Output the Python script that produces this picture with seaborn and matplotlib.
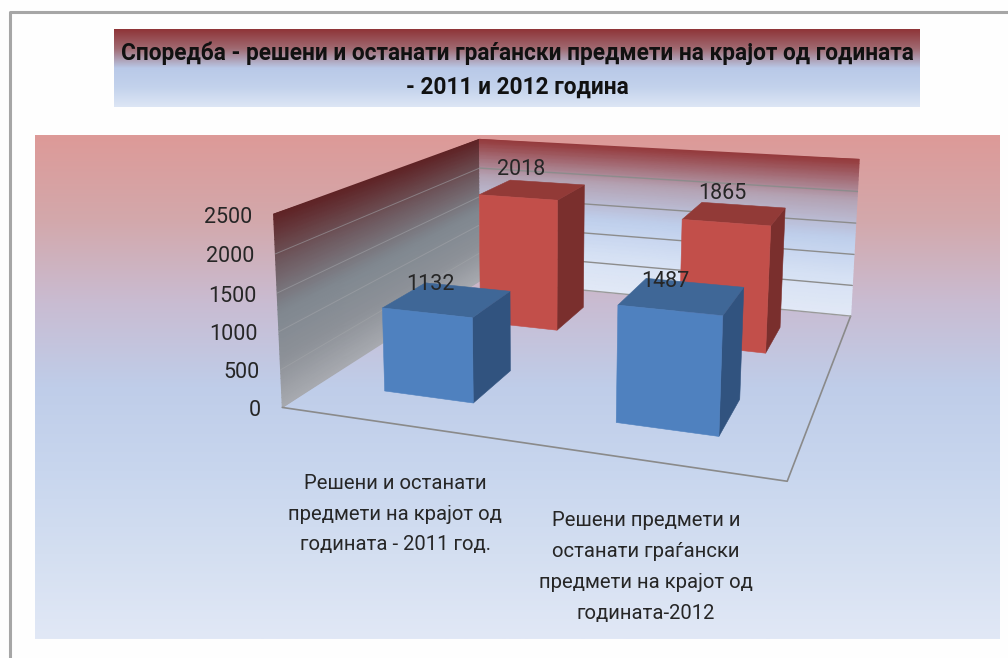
import numpy as np
import matplotlib
matplotlib.use('Agg')
import matplotlib.pyplot as plt
import seaborn as sns

sns.set_style('white')
plt.rcParams['font.family'] = ['Roboto', 'DejaVu Sans']

title = 'Споредба - решени и останати граѓански предмети на крајот од годината\n- 2011 и 2012 година'
categories = ['Решени и останати\nпредмети на крајот од\nгодината - 2011 год.',
              'Решени предмети и\nостанати граѓански\nпредмети на крајот од\nгодината-2012']
front_series = [1132, 1487]   # blue row
back_series = [2018, 1865]    # red row
y_ticks = [0, 500, 1000, 1500, 2000, 2500]
y_max = 2500

# camera: corners of the chart box (x, depth, value share) and where they land in the picture
world = [(0, 0, 0), (1, 0, 0), (1, 1, 0), (0, 1, 0), (0, 0, 1), (0, 1, 1), (1, 1, 1)]
image = [(283, 407), (787, 482), (851, 315), (480, 281), (273, 214), (480, 139), (859, 160)]
rows = []
for (X, Y, Z), (px, py) in zip(world, image):
    rows.append([X, Y, Z, 1, 0, 0, 0, 0, -px*X, -px*Y, -px*Z, -px])
    rows.append([0, 0, 0, 0, X, Y, Z, 1, -py*X, -py*Y, -py*Z, -py])
P = np.linalg.svd(np.array(rows, dtype=float))[2][-1].reshape(3, 4)


def proj(x, d, v):
    x, d, v = np.broadcast_arrays(x, d, np.asarray(v, dtype=float) / y_max)
    w = np.stack([x, d, v, np.ones_like(x, dtype=float)], axis=-1) @ P.T
    return w[..., 0] / w[..., 2], w[..., 1] / w[..., 2]


def box(xc, dc, value, front, top, side):
    x0, x1, d0, d1 = xc - 0.1, xc + 0.1, dc - 0.1, dc + 0.1
    faces = [([x1, x1, x1, x1], [d0, d1, d1, d0], [0, 0, value, value], side),
             ([x0, x1, x1, x0], [d0, d0, d1, d1], [value] * 4, top),
             ([x0, x1, x1, x0], [d0, d0, d0, d0], [0, 0, value, value], front)]
    for xs, ds, vs, color in faces:
        ax.fill(*proj(np.array(xs), np.array(ds), np.array(vs)), color=color, lw=0.4, zorder=4)


def gradient(x0, x1, y0, y1, stops):
    cmap = sns.blend_palette(stops, as_cmap=True)
    ax.imshow(np.linspace(0, 1, 256)[:, None], extent=(x0, x1, y1, y0), cmap=cmap,
              aspect='auto', zorder=1)


fig = plt.figure(figsize=(10.08, 6.58), dpi=100, facecolor='#fefefe')
ax = fig.add_axes([0, 0, 1, 1])
ax.axis('off')

# backgrounds
gradient(114, 920, 29, 107, ['#8f3437', '#a06a72', '#b9c9e8', '#c3d2ec', '#dde6f5'])
gradient(35, 1000, 135, 639, ['#dd9a98', '#d3a8ab', '#c9bcd2', '#bfcde9', '#c8d6ee', '#d4dff1', '#e1e8f6'])

# walls
vv = np.linspace(0, y_max, 40)
dd = np.linspace(0, 1, 2)
xx = np.linspace(0, 1, 2)
left_cmap = sns.blend_palette(['#a8aab0', '#8d9198', '#808890', '#6f5a60', '#5f2325'], as_cmap=True)
back_cmap = sns.blend_palette(['#e2e9f6', '#d6e1f4', '#bfcfec', '#b4a2b3', '#953a3c'], as_cmap=True)
D, V = np.meshgrid(dd, vv)
ax.pcolormesh(*proj(np.zeros_like(D), D, V), V, cmap=left_cmap, shading='gouraud', zorder=2)
X, V = np.meshgrid(xx, vv)
ax.pcolormesh(*proj(X, np.ones_like(X), V), V, cmap=back_cmap, shading='gouraud', zorder=2)

# gridlines
for t in y_ticks[1:-1]:
    ax.plot(*proj(np.array([0, 0]), np.array([0, 1]), np.array([t, t])), color='#a3a5aa', lw=0.7, alpha=0.55, zorder=3)
    ax.plot(*proj(np.array([0, 1]), np.array([1, 1]), np.array([t, t])), color='#8c8c8c', lw=1, zorder=3)
ax.plot(*proj(np.array([0, 1, 1]), np.array([0, 0, 1]), np.array([0, 0, 0])), color='#8a8a8a', lw=1.2, zorder=3)
ax.plot(*proj(np.array([0, 1]), np.array([1, 1]), np.array([0, 0])), color='#9a9a9a', lw=1, zorder=3)

# bars, back row first
centres = [0.25, 0.75]
for xc, value in zip(centres, back_series):
    box(xc, 0.75, value, '#c24f4a', '#923a37', '#7a2f2d')
for xc, value in zip(centres, front_series):
    box(xc, 0.25, value, '#4f81bf', '#3f6797', '#31537f')

# value labels
for dc, series, ox, oy in ((0.75, back_series, -12, -20), (0.25, front_series, -17, -15)):
    for xc, value in zip(centres, series):
        lx, ly = proj(xc, dc, value)
        ax.text(lx + ox, ly + oy, str(value), ha='center', va='center', fontsize=15.5,
                color='#262626', zorder=6)

# value axis labels
for t in y_ticks:
    lx, ly = proj(0, 0, t)
    ax.text(lx - 21, ly + 3, str(t), ha='right', va='center', fontsize=15.5, color='#262626', zorder=6)

# category labels
for label, (cx, cy) in zip(categories, [(395, 514), (646, 567)]):
    ax.text(cx, cy, label, ha='center', va='center', fontsize=14.6, color='#262626',
            linespacing=1.78, zorder=6)

ax.text(517, 70, title, ha='center', va='center', fontsize=16.3, fontweight='bold',
        color='#111111', linespacing=1.62, zorder=6)

# outer frame
ax.plot([10, 10, 1008], [658, 12, 12], color='#a6a6a6', lw=2.2, zorder=7)

ax.set_xlim(0, 1008)
ax.set_ylim(658, 0)
fig.savefig('out.png', dpi=100, facecolor=fig.get_facecolor())
